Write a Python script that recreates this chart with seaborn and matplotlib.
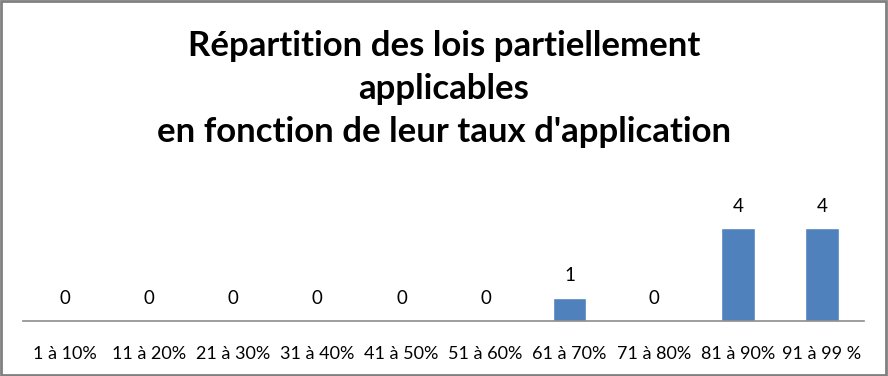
import pandas as pd
import seaborn as sns
import matplotlib.pyplot as plt
from matplotlib.patches import Rectangle

tranches = ['1 à 10%', '11 à 20%', '21 à 30%', '31 à 40%', '41 à 50%',
            '51 à 60%', '61 à 70%', '71 à 80%', '81 à 90%', '91 à 99 %']
nb_lois = [0, 0, 0, 0, 0, 0, 1, 0, 4, 4]

df = pd.DataFrame({'tranche': tranches, 'nb': nb_lois})

sns.set_style('white')
plt.rcParams['font.family'] = ['Lato', 'DejaVu Sans']

fig = plt.figure(figsize=(8.88, 3.76), dpi=100)
ax = fig.add_axes([23/888, 1 - 321/376, (864 - 23)/888, 116/376])

sns.barplot(data=df, x='tranche', y='nb', color='#4F81BD', width=0.40,
            saturation=1, ax=ax)

# étiquettes de valeur au-dessus des barres
for i, v in enumerate(nb_lois):
    ax.text(i, v + 0.95, str(v), ha='center', va='center', fontsize=13.5, color='black')

ax.set_ylim(0, 5)
ax.set_xlim(-0.5, len(tranches) - 0.5)
ax.set_yticks([])
ax.set_xlabel('')
ax.set_ylabel('')
ax.tick_params(axis='x', length=0, pad=18, labelsize=13, labelcolor='black')
for s in ['top', 'right', 'left']:
    ax.spines[s].set_visible(False)
ax.spines['bottom'].set_color('#8c8c8c')
ax.spines['bottom'].set_linewidth(1.2)

fig.text(0.5, 1 - 89/376, "Répartition des lois partiellement\napplicables\nen fonction de leur taux d'application",
         ha='center', va='center', fontsize=25, fontweight='bold', linespacing=1.42,
         color='black')

fig.patches.append(Rectangle((0.001, 0.002), 0.997, 0.996, transform=fig.transFigure,
                             fill=False, edgecolor='#808080', linewidth=2))

fig.savefig('out.png', dpi=100)
